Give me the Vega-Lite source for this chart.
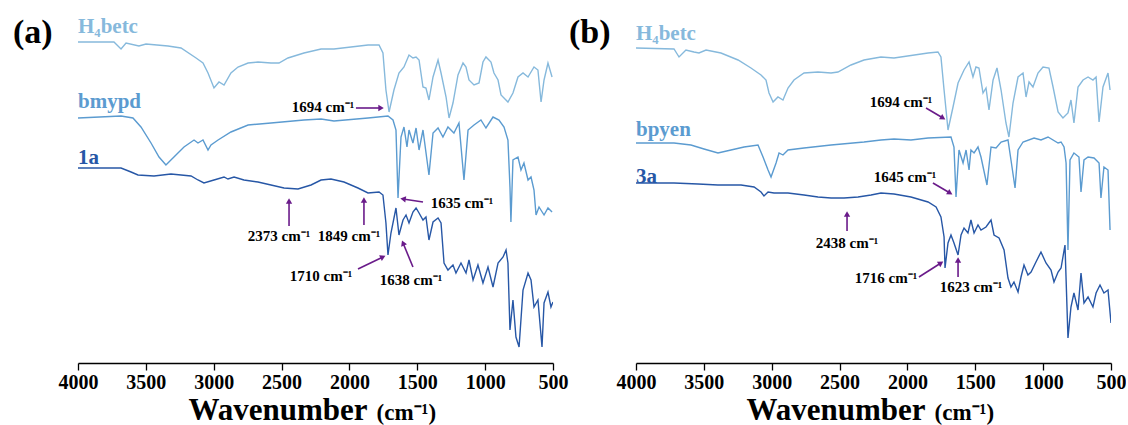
{
"$schema": "https://vega.github.io/schema/vega-lite/v6.json",
"padding": {"left": 12, "top": 0, "right": 0, "bottom": 0},
"bounds": "flush",
"spacing": 83,
"config": {"font": "Liberation Serif", "view": {"stroke": null}, "text": {"font": "Liberation Serif", "fontWeight": "bold"}},
"datasets": {
"spectra": [
{"p":"a","s":"H4betc","x":4000,"y":321},{"p":"a","s":"H4betc","x":3735,"y":321},{"p":"a","s":"H4betc","x":3683,"y":314},{"p":"a","s":"H4betc","x":3646,"y":320},{"p":"a","s":"H4betc","x":3551,"y":317},{"p":"a","s":"H4betc","x":3499,"y":319},{"p":"a","s":"H4betc","x":3337,"y":317},{"p":"a","s":"H4betc","x":3241,"y":315},{"p":"a","s":"H4betc","x":3130,"y":305},{"p":"a","s":"H4betc","x":3079,"y":300},{"p":"a","s":"H4betc","x":3042,"y":290},{"p":"a","s":"H4betc","x":2998,"y":275},{"p":"a","s":"H4betc","x":2961,"y":281},{"p":"a","s":"H4betc","x":2924,"y":278},{"p":"a","s":"H4betc","x":2873,"y":290},{"p":"a","s":"H4betc","x":2821,"y":296},{"p":"a","s":"H4betc","x":2747,"y":300},{"p":"a","s":"H4betc","x":2674,"y":301},{"p":"a","s":"H4betc","x":2578,"y":300},{"p":"a","s":"H4betc","x":2519,"y":300},{"p":"a","s":"H4betc","x":2453,"y":305},{"p":"a","s":"H4betc","x":2335,"y":310},{"p":"a","s":"H4betc","x":2209,"y":314},{"p":"a","s":"H4betc","x":2114,"y":314},{"p":"a","s":"H4betc","x":1863,"y":318},{"p":"a","s":"H4betc","x":1782,"y":318},{"p":"a","s":"H4betc","x":1753,"y":310},{"p":"a","s":"H4betc","x":1731,"y":273},{"p":"a","s":"H4betc","x":1708,"y":251},{"p":"a","s":"H4betc","x":1672,"y":273},{"p":"a","s":"H4betc","x":1635,"y":290},{"p":"a","s":"H4betc","x":1598,"y":296},{"p":"a","s":"H4betc","x":1561,"y":308},{"p":"a","s":"H4betc","x":1532,"y":305},{"p":"a","s":"H4betc","x":1509,"y":306},{"p":"a","s":"H4betc","x":1487,"y":303},{"p":"a","s":"H4betc","x":1458,"y":276},{"p":"a","s":"H4betc","x":1436,"y":275},{"p":"a","s":"H4betc","x":1414,"y":263},{"p":"a","s":"H4betc","x":1384,"y":286},{"p":"a","s":"H4betc","x":1347,"y":303},{"p":"a","s":"H4betc","x":1325,"y":290},{"p":"a","s":"H4betc","x":1288,"y":266},{"p":"a","s":"H4betc","x":1266,"y":245},{"p":"a","s":"H4betc","x":1237,"y":260},{"p":"a","s":"H4betc","x":1200,"y":288},{"p":"a","s":"H4betc","x":1163,"y":300},{"p":"a","s":"H4betc","x":1141,"y":296},{"p":"a","s":"H4betc","x":1119,"y":283},{"p":"a","s":"H4betc","x":1082,"y":278},{"p":"a","s":"H4betc","x":1045,"y":280},{"p":"a","s":"H4betc","x":1016,"y":301},{"p":"a","s":"H4betc","x":994,"y":306},{"p":"a","s":"H4betc","x":957,"y":301},{"p":"a","s":"H4betc","x":935,"y":290},{"p":"a","s":"H4betc","x":905,"y":283},{"p":"a","s":"H4betc","x":883,"y":268},{"p":"a","s":"H4betc","x":832,"y":261},{"p":"a","s":"H4betc","x":795,"y":270},{"p":"a","s":"H4betc","x":758,"y":286},{"p":"a","s":"H4betc","x":721,"y":290},{"p":"a","s":"H4betc","x":684,"y":286},{"p":"a","s":"H4betc","x":640,"y":296},{"p":"a","s":"H4betc","x":611,"y":293},{"p":"a","s":"H4betc","x":588,"y":261},{"p":"a","s":"H4betc","x":566,"y":283},{"p":"a","s":"H4betc","x":537,"y":300},{"p":"a","s":"H4betc","x":507,"y":286},
{"p":"a","s":"bmypd","x":4000,"y":245},{"p":"a","s":"bmypd","x":3683,"y":247},{"p":"a","s":"bmypd","x":3595,"y":245},{"p":"a","s":"bmypd","x":3536,"y":236},{"p":"a","s":"bmypd","x":3462,"y":220},{"p":"a","s":"bmypd","x":3403,"y":206},{"p":"a","s":"bmypd","x":3352,"y":198},{"p":"a","s":"bmypd","x":3293,"y":206},{"p":"a","s":"bmypd","x":3219,"y":216},{"p":"a","s":"bmypd","x":3145,"y":223},{"p":"a","s":"bmypd","x":3116,"y":220},{"p":"a","s":"bmypd","x":3079,"y":223},{"p":"a","s":"bmypd","x":3042,"y":213},{"p":"a","s":"bmypd","x":3020,"y":218},{"p":"a","s":"bmypd","x":2968,"y":223},{"p":"a","s":"bmypd","x":2873,"y":231},{"p":"a","s":"bmypd","x":2747,"y":238},{"p":"a","s":"bmypd","x":2578,"y":240},{"p":"a","s":"bmypd","x":2335,"y":243},{"p":"a","s":"bmypd","x":2209,"y":244},{"p":"a","s":"bmypd","x":2114,"y":242},{"p":"a","s":"bmypd","x":1863,"y":245},{"p":"a","s":"bmypd","x":1716,"y":247},{"p":"a","s":"bmypd","x":1679,"y":243},{"p":"a","s":"bmypd","x":1657,"y":233},{"p":"a","s":"bmypd","x":1642,"y":165},{"p":"a","s":"bmypd","x":1620,"y":226},{"p":"a","s":"bmypd","x":1598,"y":236},{"p":"a","s":"bmypd","x":1576,"y":216},{"p":"a","s":"bmypd","x":1561,"y":233},{"p":"a","s":"bmypd","x":1532,"y":220},{"p":"a","s":"bmypd","x":1509,"y":235},{"p":"a","s":"bmypd","x":1487,"y":213},{"p":"a","s":"bmypd","x":1458,"y":233},{"p":"a","s":"bmypd","x":1414,"y":188},{"p":"a","s":"bmypd","x":1384,"y":230},{"p":"a","s":"bmypd","x":1347,"y":235},{"p":"a","s":"bmypd","x":1311,"y":226},{"p":"a","s":"bmypd","x":1274,"y":236},{"p":"a","s":"bmypd","x":1230,"y":230},{"p":"a","s":"bmypd","x":1193,"y":240},{"p":"a","s":"bmypd","x":1156,"y":183},{"p":"a","s":"bmypd","x":1126,"y":233},{"p":"a","s":"bmypd","x":1082,"y":238},{"p":"a","s":"bmypd","x":1031,"y":243},{"p":"a","s":"bmypd","x":994,"y":235},{"p":"a","s":"bmypd","x":942,"y":246},{"p":"a","s":"bmypd","x":898,"y":243},{"p":"a","s":"bmypd","x":861,"y":236},{"p":"a","s":"bmypd","x":832,"y":223},{"p":"a","s":"bmypd","x":817,"y":176},{"p":"a","s":"bmypd","x":810,"y":141},{"p":"a","s":"bmypd","x":795,"y":203},{"p":"a","s":"bmypd","x":758,"y":206},{"p":"a","s":"bmypd","x":736,"y":193},{"p":"a","s":"bmypd","x":714,"y":200},{"p":"a","s":"bmypd","x":684,"y":183},{"p":"a","s":"bmypd","x":662,"y":186},{"p":"a","s":"bmypd","x":640,"y":173},{"p":"a","s":"bmypd","x":625,"y":148},{"p":"a","s":"bmypd","x":603,"y":156},{"p":"a","s":"bmypd","x":566,"y":148},{"p":"a","s":"bmypd","x":537,"y":155},{"p":"a","s":"bmypd","x":507,"y":151},
{"p":"a","s":"1a","x":4000,"y":195},{"p":"a","s":"1a","x":3683,"y":195},{"p":"a","s":"1a","x":3609,"y":191},{"p":"a","s":"1a","x":3558,"y":188},{"p":"a","s":"1a","x":3440,"y":187},{"p":"a","s":"1a","x":3315,"y":189},{"p":"a","s":"1a","x":3167,"y":187},{"p":"a","s":"1a","x":3116,"y":183},{"p":"a","s":"1a","x":3072,"y":180},{"p":"a","s":"1a","x":2998,"y":183},{"p":"a","s":"1a","x":2924,"y":186},{"p":"a","s":"1a","x":2895,"y":184},{"p":"a","s":"1a","x":2850,"y":186},{"p":"a","s":"1a","x":2777,"y":183},{"p":"a","s":"1a","x":2674,"y":181},{"p":"a","s":"1a","x":2578,"y":178},{"p":"a","s":"1a","x":2482,"y":175},{"p":"a","s":"1a","x":2379,"y":174},{"p":"a","s":"1a","x":2283,"y":178},{"p":"a","s":"1a","x":2209,"y":183},{"p":"a","s":"1a","x":2136,"y":184},{"p":"a","s":"1a","x":2040,"y":181},{"p":"a","s":"1a","x":1937,"y":175},{"p":"a","s":"1a","x":1863,"y":170},{"p":"a","s":"1a","x":1782,"y":171},{"p":"a","s":"1a","x":1753,"y":168},{"p":"a","s":"1a","x":1731,"y":140},{"p":"a","s":"1a","x":1716,"y":108},{"p":"a","s":"1a","x":1694,"y":130},{"p":"a","s":"1a","x":1657,"y":155},{"p":"a","s":"1a","x":1635,"y":128},{"p":"a","s":"1a","x":1605,"y":143},{"p":"a","s":"1a","x":1583,"y":148},{"p":"a","s":"1a","x":1561,"y":140},{"p":"a","s":"1a","x":1532,"y":151},{"p":"a","s":"1a","x":1509,"y":155},{"p":"a","s":"1a","x":1487,"y":150},{"p":"a","s":"1a","x":1458,"y":143},{"p":"a","s":"1a","x":1436,"y":146},{"p":"a","s":"1a","x":1414,"y":123},{"p":"a","s":"1a","x":1384,"y":141},{"p":"a","s":"1a","x":1347,"y":145},{"p":"a","s":"1a","x":1325,"y":140},{"p":"a","s":"1a","x":1303,"y":100},{"p":"a","s":"1a","x":1274,"y":93},{"p":"a","s":"1a","x":1237,"y":98},{"p":"a","s":"1a","x":1215,"y":90},{"p":"a","s":"1a","x":1178,"y":100},{"p":"a","s":"1a","x":1141,"y":90},{"p":"a","s":"1a","x":1119,"y":103},{"p":"a","s":"1a","x":1089,"y":83},{"p":"a","s":"1a","x":1053,"y":98},{"p":"a","s":"1a","x":1016,"y":80},{"p":"a","s":"1a","x":979,"y":96},{"p":"a","s":"1a","x":942,"y":76},{"p":"a","s":"1a","x":905,"y":100},{"p":"a","s":"1a","x":868,"y":106},{"p":"a","s":"1a","x":846,"y":113},{"p":"a","s":"1a","x":832,"y":100},{"p":"a","s":"1a","x":817,"y":33},{"p":"a","s":"1a","x":795,"y":63},{"p":"a","s":"1a","x":773,"y":26},{"p":"a","s":"1a","x":750,"y":16},{"p":"a","s":"1a","x":721,"y":73},{"p":"a","s":"1a","x":684,"y":90},{"p":"a","s":"1a","x":662,"y":83},{"p":"a","s":"1a","x":640,"y":56},{"p":"a","s":"1a","x":611,"y":63},{"p":"a","s":"1a","x":581,"y":16},{"p":"a","s":"1a","x":566,"y":60},{"p":"a","s":"1a","x":537,"y":71},{"p":"a","s":"1a","x":515,"y":56},{"p":"a","s":"1a","x":500,"y":61},
{"p":"b","s":"H4betc","x":4000,"y":315},{"p":"b","s":"H4betc","x":3720,"y":314},{"p":"b","s":"H4betc","x":3683,"y":306},{"p":"b","s":"H4betc","x":3632,"y":313},{"p":"b","s":"H4betc","x":3573,"y":311},{"p":"b","s":"H4betc","x":3536,"y":310},{"p":"b","s":"H4betc","x":3484,"y":313},{"p":"b","s":"H4betc","x":3374,"y":310},{"p":"b","s":"H4betc","x":3248,"y":303},{"p":"b","s":"H4betc","x":3153,"y":295},{"p":"b","s":"H4betc","x":3079,"y":288},{"p":"b","s":"H4betc","x":3042,"y":283},{"p":"b","s":"H4betc","x":3020,"y":270},{"p":"b","s":"H4betc","x":2990,"y":261},{"p":"b","s":"H4betc","x":2954,"y":266},{"p":"b","s":"H4betc","x":2917,"y":263},{"p":"b","s":"H4betc","x":2880,"y":275},{"p":"b","s":"H4betc","x":2836,"y":283},{"p":"b","s":"H4betc","x":2762,"y":290},{"p":"b","s":"H4betc","x":2659,"y":291},{"p":"b","s":"H4betc","x":2563,"y":290},{"p":"b","s":"H4betc","x":2512,"y":291},{"p":"b","s":"H4betc","x":2416,"y":298},{"p":"b","s":"H4betc","x":2320,"y":303},{"p":"b","s":"H4betc","x":2195,"y":306},{"p":"b","s":"H4betc","x":2099,"y":305},{"p":"b","s":"H4betc","x":1848,"y":310},{"p":"b","s":"H4betc","x":1775,"y":311},{"p":"b","s":"H4betc","x":1753,"y":306},{"p":"b","s":"H4betc","x":1730,"y":273},{"p":"b","s":"H4betc","x":1701,"y":233},{"p":"b","s":"H4betc","x":1664,"y":256},{"p":"b","s":"H4betc","x":1627,"y":280},{"p":"b","s":"H4betc","x":1583,"y":293},{"p":"b","s":"H4betc","x":1546,"y":301},{"p":"b","s":"H4betc","x":1517,"y":286},{"p":"b","s":"H4betc","x":1495,"y":296},{"p":"b","s":"H4betc","x":1473,"y":295},{"p":"b","s":"H4betc","x":1443,"y":270},{"p":"b","s":"H4betc","x":1421,"y":275},{"p":"b","s":"H4betc","x":1399,"y":253},{"p":"b","s":"H4betc","x":1369,"y":283},{"p":"b","s":"H4betc","x":1340,"y":295},{"p":"b","s":"H4betc","x":1310,"y":273},{"p":"b","s":"H4betc","x":1274,"y":240},{"p":"b","s":"H4betc","x":1252,"y":226},{"p":"b","s":"H4betc","x":1222,"y":260},{"p":"b","s":"H4betc","x":1185,"y":286},{"p":"b","s":"H4betc","x":1148,"y":290},{"p":"b","s":"H4betc","x":1126,"y":266},{"p":"b","s":"H4betc","x":1104,"y":281},{"p":"b","s":"H4betc","x":1075,"y":276},{"p":"b","s":"H4betc","x":1038,"y":290},{"p":"b","s":"H4betc","x":1001,"y":296},{"p":"b","s":"H4betc","x":957,"y":295},{"p":"b","s":"H4betc","x":927,"y":276},{"p":"b","s":"H4betc","x":890,"y":251},{"p":"b","s":"H4betc","x":854,"y":245},{"p":"b","s":"H4betc","x":817,"y":250},{"p":"b","s":"H4betc","x":795,"y":263},{"p":"b","s":"H4betc","x":773,"y":240},{"p":"b","s":"H4betc","x":743,"y":276},{"p":"b","s":"H4betc","x":706,"y":283},{"p":"b","s":"H4betc","x":669,"y":286},{"p":"b","s":"H4betc","x":633,"y":283},{"p":"b","s":"H4betc","x":610,"y":286},{"p":"b","s":"H4betc","x":588,"y":241},{"p":"b","s":"H4betc","x":559,"y":276},{"p":"b","s":"H4betc","x":522,"y":290},{"p":"b","s":"H4betc","x":507,"y":273},
{"p":"b","s":"bpyen","x":4000,"y":220},{"p":"b","s":"bpyen","x":3720,"y":220},{"p":"b","s":"bpyen","x":3595,"y":218},{"p":"b","s":"bpyen","x":3499,"y":214},{"p":"b","s":"bpyen","x":3396,"y":210},{"p":"b","s":"bpyen","x":3300,"y":213},{"p":"b","s":"bpyen","x":3204,"y":216},{"p":"b","s":"bpyen","x":3101,"y":218},{"p":"b","s":"bpyen","x":3064,"y":206},{"p":"b","s":"bpyen","x":3027,"y":193},{"p":"b","s":"bpyen","x":3005,"y":186},{"p":"b","s":"bpyen","x":2968,"y":200},{"p":"b","s":"bpyen","x":2946,"y":210},{"p":"b","s":"bpyen","x":2917,"y":208},{"p":"b","s":"bpyen","x":2880,"y":213},{"p":"b","s":"bpyen","x":2762,"y":215},{"p":"b","s":"bpyen","x":2563,"y":218},{"p":"b","s":"bpyen","x":2320,"y":221},{"p":"b","s":"bpyen","x":2195,"y":223},{"p":"b","s":"bpyen","x":2099,"y":224},{"p":"b","s":"bpyen","x":1974,"y":223},{"p":"b","s":"bpyen","x":1848,"y":225},{"p":"b","s":"bpyen","x":1679,"y":226},{"p":"b","s":"bpyen","x":1657,"y":216},{"p":"b","s":"bpyen","x":1642,"y":166},{"p":"b","s":"bpyen","x":1620,"y":213},{"p":"b","s":"bpyen","x":1590,"y":200},{"p":"b","s":"bpyen","x":1568,"y":213},{"p":"b","s":"bpyen","x":1546,"y":193},{"p":"b","s":"bpyen","x":1532,"y":213},{"p":"b","s":"bpyen","x":1509,"y":210},{"p":"b","s":"bpyen","x":1480,"y":216},{"p":"b","s":"bpyen","x":1458,"y":206},{"p":"b","s":"bpyen","x":1414,"y":178},{"p":"b","s":"bpyen","x":1384,"y":216},{"p":"b","s":"bpyen","x":1347,"y":215},{"p":"b","s":"bpyen","x":1310,"y":221},{"p":"b","s":"bpyen","x":1259,"y":223},{"p":"b","s":"bpyen","x":1237,"y":203},{"p":"b","s":"bpyen","x":1207,"y":175},{"p":"b","s":"bpyen","x":1185,"y":213},{"p":"b","s":"bpyen","x":1148,"y":221},{"p":"b","s":"bpyen","x":1067,"y":225},{"p":"b","s":"bpyen","x":1016,"y":223},{"p":"b","s":"bpyen","x":964,"y":226},{"p":"b","s":"bpyen","x":890,"y":220},{"p":"b","s":"bpyen","x":868,"y":221},{"p":"b","s":"bpyen","x":846,"y":216},{"p":"b","s":"bpyen","x":831,"y":200},{"p":"b","s":"bpyen","x":817,"y":113},{"p":"b","s":"bpyen","x":802,"y":203},{"p":"b","s":"bpyen","x":773,"y":210},{"p":"b","s":"bpyen","x":736,"y":206},{"p":"b","s":"bpyen","x":721,"y":171},{"p":"b","s":"bpyen","x":699,"y":203},{"p":"b","s":"bpyen","x":669,"y":206},{"p":"b","s":"bpyen","x":625,"y":205},{"p":"b","s":"bpyen","x":588,"y":200},{"p":"b","s":"bpyen","x":574,"y":165},{"p":"b","s":"bpyen","x":552,"y":196},{"p":"b","s":"bpyen","x":522,"y":193},{"p":"b","s":"bpyen","x":507,"y":133},
{"p":"b","s":"3a","x":4000,"y":180},{"p":"b","s":"3a","x":3720,"y":180},{"p":"b","s":"3a","x":3543,"y":179},{"p":"b","s":"3a","x":3396,"y":178},{"p":"b","s":"3a","x":3226,"y":178},{"p":"b","s":"3a","x":3130,"y":176},{"p":"b","s":"3a","x":3079,"y":171},{"p":"b","s":"3a","x":3057,"y":167},{"p":"b","s":"3a","x":3027,"y":171},{"p":"b","s":"3a","x":2983,"y":170},{"p":"b","s":"3a","x":2880,"y":170},{"p":"b","s":"3a","x":2762,"y":168},{"p":"b","s":"3a","x":2659,"y":166},{"p":"b","s":"3a","x":2563,"y":165},{"p":"b","s":"3a","x":2467,"y":165},{"p":"b","s":"3a","x":2364,"y":166},{"p":"b","s":"3a","x":2268,"y":168},{"p":"b","s":"3a","x":2195,"y":170},{"p":"b","s":"3a","x":2099,"y":169},{"p":"b","s":"3a","x":1974,"y":166},{"p":"b","s":"3a","x":1848,"y":161},{"p":"b","s":"3a","x":1789,"y":156},{"p":"b","s":"3a","x":1753,"y":146},{"p":"b","s":"3a","x":1730,"y":126},{"p":"b","s":"3a","x":1723,"y":95},{"p":"b","s":"3a","x":1701,"y":120},{"p":"b","s":"3a","x":1679,"y":128},{"p":"b","s":"3a","x":1657,"y":120},{"p":"b","s":"3a","x":1627,"y":108},{"p":"b","s":"3a","x":1605,"y":128},{"p":"b","s":"3a","x":1583,"y":135},{"p":"b","s":"3a","x":1554,"y":130},{"p":"b","s":"3a","x":1532,"y":143},{"p":"b","s":"3a","x":1509,"y":130},{"p":"b","s":"3a","x":1480,"y":138},{"p":"b","s":"3a","x":1458,"y":133},{"p":"b","s":"3a","x":1421,"y":136},{"p":"b","s":"3a","x":1384,"y":143},{"p":"b","s":"3a","x":1362,"y":128},{"p":"b","s":"3a","x":1325,"y":125},{"p":"b","s":"3a","x":1288,"y":113},{"p":"b","s":"3a","x":1259,"y":85},{"p":"b","s":"3a","x":1237,"y":76},{"p":"b","s":"3a","x":1215,"y":81},{"p":"b","s":"3a","x":1185,"y":71},{"p":"b","s":"3a","x":1163,"y":86},{"p":"b","s":"3a","x":1141,"y":98},{"p":"b","s":"3a","x":1112,"y":88},{"p":"b","s":"3a","x":1089,"y":91},{"p":"b","s":"3a","x":1053,"y":101},{"p":"b","s":"3a","x":1016,"y":111},{"p":"b","s":"3a","x":979,"y":100},{"p":"b","s":"3a","x":942,"y":93},{"p":"b","s":"3a","x":920,"y":81},{"p":"b","s":"3a","x":890,"y":91},{"p":"b","s":"3a","x":868,"y":95},{"p":"b","s":"3a","x":839,"y":118},{"p":"b","s":"3a","x":817,"y":25},{"p":"b","s":"3a","x":795,"y":56},{"p":"b","s":"3a","x":773,"y":70},{"p":"b","s":"3a","x":743,"y":53},{"p":"b","s":"3a","x":721,"y":90},{"p":"b","s":"3a","x":699,"y":60},{"p":"b","s":"3a","x":669,"y":66},{"p":"b","s":"3a","x":633,"y":56},{"p":"b","s":"3a","x":610,"y":70},{"p":"b","s":"3a","x":581,"y":78},{"p":"b","s":"3a","x":552,"y":70},{"p":"b","s":"3a","x":522,"y":73},{"p":"b","s":"3a","x":500,"y":40}
],
"names": [
{"p":"a","s":"H4betc","t":"H₄betc","x":4000,"y":336},{"p":"a","s":"bmypd","t":"bmypd","x":4000,"y":261},{"p":"a","s":"1a","t":"1a","x":4000,"y":205},
{"p":"b","s":"H4betc","t":"H₄betc","x":4000,"y":329},{"p":"b","s":"bpyen","t":"bpyen","x":4000,"y":233},{"p":"b","s":"3a","t":"3a","x":4000,"y":186}
],
"notes": [
{"p":"a","t":"1694 cm⁻¹","x":2195,"y":256},{"p":"a","t":"1635 cm⁻¹","x":1170,"y":160},{"p":"a","t":"2373 cm⁻¹","x":2519,"y":127},{"p":"a","t":"1849 cm⁻¹","x":2003,"y":127},{"p":"a","t":"1710 cm⁻¹","x":2209,"y":87},{"p":"a","t":"1638 cm⁻¹","x":1546,"y":83},
{"p":"b","t":"1694 cm⁻¹","x":2047,"y":261},{"p":"b","t":"1645 cm⁻¹","x":2018,"y":186},{"p":"b","t":"2438 cm⁻¹","x":2445,"y":120},{"p":"b","t":"1716 cm⁻¹","x":2158,"y":85},{"p":"b","t":"1623 cm⁻¹","x":1532,"y":76}
],
"arrows": [
{"p":"a","tx":1952,"ty":255,"hx":1767,"hy":255},{"p":"a","tx":1458,"ty":161,"hx":1605,"hy":164},{"p":"a","tx":2445,"ty":137,"hx":2445,"hy":162},{"p":"a","tx":1893,"ty":138,"hx":1893,"hy":163},{"p":"a","tx":1937,"ty":94,"hx":1753,"hy":106},{"p":"a","tx":1532,"ty":96,"hx":1605,"hy":120},
{"p":"b","tx":1863,"ty":255,"hx":1738,"hy":245},{"p":"b","tx":1812,"ty":180,"hx":1686,"hy":170},{"p":"b","tx":2445,"ty":132,"hx":2445,"hy":149},{"p":"b","tx":1915,"ty":86,"hx":1753,"hy":100},{"p":"b","tx":1627,"ty":86,"hx":1627,"hy":103}
],
"panels": [
{"p":"a","t":"(a)","x":4479,"y":330},{"p":"b","t":"(b)","x":4494,"y":330}
],
"titles": [
{"p":"a","t":"Wavenumber","x":3186,"y":-57,"k":"big"},{"p":"a","t":"(cm⁻¹)","x":1800,"y":-57,"k":"small"},
{"p":"b","t":"Wavenumber","x":3186,"y":-57,"k":"big"},{"p":"b","t":"(cm⁻¹)","x":1800,"y":-57,"k":"small"}
]
},
"hconcat": [
{
"width": 475, "height": 363,
"layer": [
{"data": {"name": "spectra"}, "transform": [{"filter": "datum.p === 'a'"}],
 "mark": {"type": "line", "strokeWidth": 1.4, "clip": true},
 "encoding": {
  "x": {"field": "x", "type": "quantitative", "scale": {"domain": [4000, 500], "nice": false, "zero": false},
   "axis": {"values": [4000,3750,3500,3250,3000,2750,2500,2250,2000,1750,1500,1250,1000,750,500], "labelExpr": "datum.value % 500 === 0 ? datum.value : ''", "tickSize": {"condition": {"test": "datum.value % 500 === 0", "value": 7}, "value": 4}, "title": null, "grid": false, "labelFont": "Liberation Serif", "labelFontWeight": "bold", "labelFontSize": 20, "labelColor": "black", "labelPadding": 2, "labelOverlap": false, "labelFlush": false, "domainColor": "black", "tickColor": "black", "domainWidth": 1.3, "tickWidth": 1.3}},
  "y": {"field": "y", "type": "quantitative", "scale": {"domain": [0, 363], "nice": false, "zero": false}, "axis": null},
  "color": {"field": "s", "type": "nominal", "scale": {"domain": ["H4betc","bmypd","1a","bpyen","3a"], "range": ["#86b9dc","#5b9bd0","#2757a6","#5b9bd0","#2757a6"]}, "legend": null}
 }},
{"data": {"name": "names"}, "transform": [{"filter": "datum.p === 'a'"}],
 "mark": {"type": "text", "align": "left", "baseline": "middle", "fontSize": 21, "font": "Liberation Serif", "fontWeight": "bold"},
 "encoding": {"x": {"field": "x", "type": "quantitative"}, "y": {"field": "y", "type": "quantitative"}, "text": {"field": "t"},
  "color": {"field": "s", "type": "nominal", "legend": null}}},
{"data": {"name": "notes"}, "transform": [{"filter": "datum.p === 'a'"}],
 "mark": {"type": "text", "align": "center", "baseline": "middle", "fontSize": 15, "color": "black", "font": "Liberation Serif", "fontWeight": "bold"},
 "encoding": {"x": {"field": "x", "type": "quantitative"}, "y": {"field": "y", "type": "quantitative"}, "text": {"field": "t"}}},
{"data": {"name": "arrows"}, "transform": [{"filter": "datum.p === 'a'"}],
 "mark": {"type": "rule", "color": "#6a1b8a", "strokeWidth": 1.6},
 "encoding": {"x": {"field": "tx", "type": "quantitative"}, "y": {"field": "ty", "type": "quantitative"}, "x2": {"field": "hx"}, "y2": {"field": "hy"}}},
{"data": {"name": "arrows"}, "transform": [{"filter": "datum.p === 'a'"}, {"calculate": "atan2((datum.tx - datum.hx) / 7.3684, datum.hy - datum.ty) * 180 / PI", "as": "ang"}],
 "mark": {"type": "point", "shape": "triangle-up", "filled": true, "size": 40, "color": "#6a1b8a", "opacity": 1},
 "encoding": {"x": {"field": "hx", "type": "quantitative"}, "y": {"field": "hy", "type": "quantitative"}, "angle": {"field": "ang", "type": "quantitative", "scale": null}}},
{"data": {"name": "panels"}, "transform": [{"filter": "datum.p === 'a'"}],
 "mark": {"type": "text", "align": "left", "baseline": "middle", "fontSize": 34, "color": "black", "font": "Liberation Serif", "fontWeight": "bold"},
 "encoding": {"x": {"field": "x", "type": "quantitative"}, "y": {"field": "y", "type": "quantitative"}, "text": {"field": "t"}}},
{"data": {"name": "titles"}, "transform": [{"filter": "datum.p === 'a'"}],
 "mark": {"type": "text", "align": "left", "baseline": "alphabetic", "color": "black", "font": "Liberation Serif", "fontWeight": "bold"},
 "encoding": {"x": {"field": "x", "type": "quantitative"}, "y": {"field": "y", "type": "quantitative"}, "text": {"field": "t"},
  "size": {"field": "k", "type": "nominal", "scale": {"domain": ["big","small"], "range": [31, 23]}, "legend": null}}}
]
},
{
"width": 475, "height": 363,
"layer": [
{"data": {"name": "spectra"}, "transform": [{"filter": "datum.p === 'b'"}],
 "mark": {"type": "line", "strokeWidth": 1.4, "clip": true},
 "encoding": {
  "x": {"field": "x", "type": "quantitative", "scale": {"domain": [4000, 500], "nice": false, "zero": false},
   "axis": {"values": [4000,3750,3500,3250,3000,2750,2500,2250,2000,1750,1500,1250,1000,750,500], "labelExpr": "datum.value % 500 === 0 ? datum.value : ''", "tickSize": {"condition": {"test": "datum.value % 500 === 0", "value": 7}, "value": 4}, "title": null, "grid": false, "labelFont": "Liberation Serif", "labelFontWeight": "bold", "labelFontSize": 20, "labelColor": "black", "labelPadding": 2, "labelOverlap": false, "labelFlush": false, "domainColor": "black", "tickColor": "black", "domainWidth": 1.3, "tickWidth": 1.3}},
  "y": {"field": "y", "type": "quantitative", "scale": {"domain": [0, 363], "nice": false, "zero": false}, "axis": null},
  "color": {"field": "s", "type": "nominal", "scale": {"domain": ["H4betc","bmypd","1a","bpyen","3a"], "range": ["#86b9dc","#5b9bd0","#2757a6","#5b9bd0","#2757a6"]}, "legend": null}
 }},
{"data": {"name": "names"}, "transform": [{"filter": "datum.p === 'b'"}],
 "mark": {"type": "text", "align": "left", "baseline": "middle", "fontSize": 21, "font": "Liberation Serif", "fontWeight": "bold"},
 "encoding": {"x": {"field": "x", "type": "quantitative"}, "y": {"field": "y", "type": "quantitative"}, "text": {"field": "t"},
  "color": {"field": "s", "type": "nominal", "legend": null}}},
{"data": {"name": "notes"}, "transform": [{"filter": "datum.p === 'b'"}],
 "mark": {"type": "text", "align": "center", "baseline": "middle", "fontSize": 15, "color": "black", "font": "Liberation Serif", "fontWeight": "bold"},
 "encoding": {"x": {"field": "x", "type": "quantitative"}, "y": {"field": "y", "type": "quantitative"}, "text": {"field": "t"}}},
{"data": {"name": "arrows"}, "transform": [{"filter": "datum.p === 'b'"}],
 "mark": {"type": "rule", "color": "#6a1b8a", "strokeWidth": 1.6},
 "encoding": {"x": {"field": "tx", "type": "quantitative"}, "y": {"field": "ty", "type": "quantitative"}, "x2": {"field": "hx"}, "y2": {"field": "hy"}}},
{"data": {"name": "arrows"}, "transform": [{"filter": "datum.p === 'b'"}, {"calculate": "atan2((datum.tx - datum.hx) / 7.3684, datum.hy - datum.ty) * 180 / PI", "as": "ang"}],
 "mark": {"type": "point", "shape": "triangle-up", "filled": true, "size": 40, "color": "#6a1b8a", "opacity": 1},
 "encoding": {"x": {"field": "hx", "type": "quantitative"}, "y": {"field": "hy", "type": "quantitative"}, "angle": {"field": "ang", "type": "quantitative", "scale": null}}},
{"data": {"name": "panels"}, "transform": [{"filter": "datum.p === 'b'"}],
 "mark": {"type": "text", "align": "left", "baseline": "middle", "fontSize": 34, "color": "black", "font": "Liberation Serif", "fontWeight": "bold"},
 "encoding": {"x": {"field": "x", "type": "quantitative"}, "y": {"field": "y", "type": "quantitative"}, "text": {"field": "t"}}},
{"data": {"name": "titles"}, "transform": [{"filter": "datum.p === 'b'"}],
 "mark": {"type": "text", "align": "left", "baseline": "alphabetic", "color": "black", "font": "Liberation Serif", "fontWeight": "bold"},
 "encoding": {"x": {"field": "x", "type": "quantitative"}, "y": {"field": "y", "type": "quantitative"}, "text": {"field": "t"},
  "size": {"field": "k", "type": "nominal", "scale": {"domain": ["big","small"], "range": [31, 23]}, "legend": null}}}
]
}
]
}
